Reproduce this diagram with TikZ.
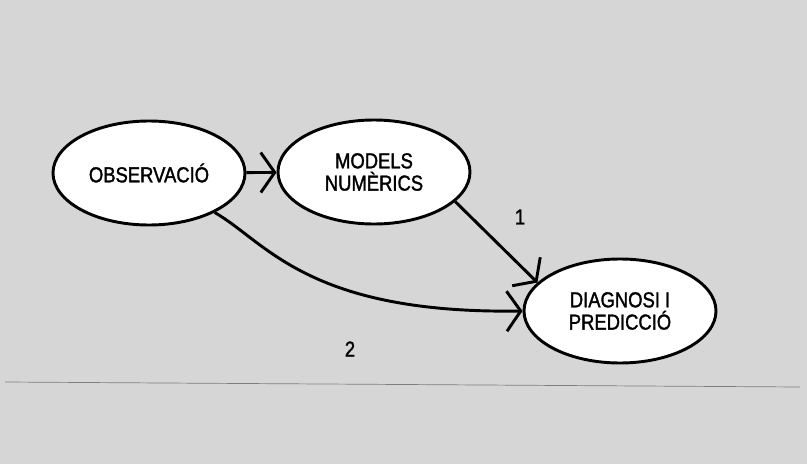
\documentclass[tikz,border=0pt]{standalone}
\usepackage{fontspec}
\setmainfont{Liberation Sans}[FakeStretch=0.85,FakeBold=1.5]
\usetikzlibrary{arrows.meta}
\usetikzlibrary{shapes.geometric}
\definecolor{paper1}{RGB}{214, 214, 214}
\definecolor{rule1}{RGB}{125, 125, 125}

\begin{document}
\begin{tikzpicture}[x=.03cm, y=.03cm, line width =2.5pt,
  >={Straight Barb[length=0.42cm,width=1.2cm]},
  bubble/.style={ellipse,draw,fill=white,minimum width=5.76cm,minimum height=3.12cm,
    align=center,inner sep=0pt,font=\fontsize{18.5}{19}\selectfont}]
  \fill[paper1] (0,0) rectangle (807,464);
  \draw[rule1, line width=0.6pt] (5,82) -- (800,77);
  \node[bubble] (n1) at (149,291) {OBSERVACIÓ};
  \node[bubble] (n2) at (374,292) {MODELS\\NUMÈRICS};
  \node[bubble] (n3) at (620,153) {DIAGNOSI I\\PREDICCIÓ};
  \foreach \from/\to in {n1/n2, n2.-20/n3.161}
   \draw[->] (\from) -- (\to);
  \draw[->] (n1.-31) .. controls +(52,-30) and +(-215,-3) .. (n3.west);
  \node[font=\fontsize{18.5}{19}\selectfont] (l1) at (520,247) {1};
  \node[font=\fontsize{18.5}{19}\selectfont] (l2) at (350,115) {2};
\end{tikzpicture}
\end{document}
